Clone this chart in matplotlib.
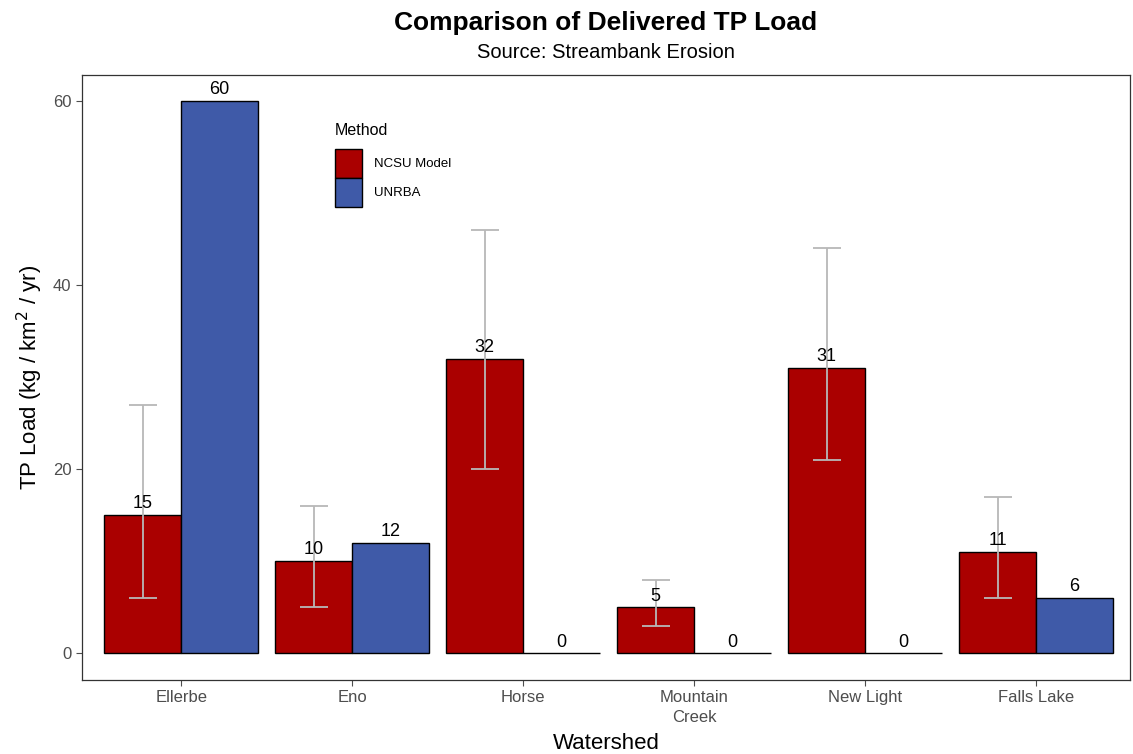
import matplotlib
matplotlib.use("Agg")
import matplotlib.pyplot as plt
from matplotlib.patches import Patch
import numpy as np

plt.rcParams['font.family'] = ['Liberation Sans', 'DejaVu Sans']

watersheds = ["Ellerbe", "Eno", "Horse", "Mountain\nCreek", "New Light", "Falls Lake"]
ncsu = [15, 10, 32, 5, 31, 11]
unrba = [60, 12, 0, 0, 0, 6]
ncsu_low = [6, 5, 20, 3, 21, 6]
ncsu_high = [27, 16, 46, 8, 44, 17]
methods = ["NCSU Model", "UNRBA"]
colors = ["#AA0000", "#3F5AA8"]

fig = plt.figure(figsize=(11.33, 7.54), dpi=100)
ax_left, ax_w = 0.0724, 0.925
ax = fig.add_axes([ax_left, 0.0981, ax_w, 0.8024])

x = np.arange(1, len(watersheds) + 1)
w = 0.45
ax.bar(x - w / 2, ncsu, width=w, color=colors[0], edgecolor="black", linewidth=1.0, zorder=2)
ax.bar(x + w / 2, unrba, width=w, color=colors[1], edgecolor="black", linewidth=1.0, zorder=2)

yerr = [np.array(ncsu) - np.array(ncsu_low), np.array(ncsu_high) - np.array(ncsu)]
ax.errorbar(x - w / 2, ncsu, yerr=yerr, fmt="none", ecolor="#B8B8B8", elinewidth=1.3,
            capsize=10, capthick=1.3, zorder=3)

for xi, v in zip(x - w / 2, ncsu):
    ax.text(xi, v + 0.3, f"{v}", ha="center", va="bottom", fontsize=13, color="black", zorder=4)
for xi, v in zip(x + w / 2, unrba):
    ax.text(xi, v + 0.3, f"{v}", ha="center", va="bottom", fontsize=13, color="black", zorder=4)

ax.set_xlim(0.42, 6.55)
ax.set_ylim(-2.9, 62.8)
ax.set_yticks([0, 20, 40, 60])
ax.set_xticks(x)
ax.set_xticklabels(watersheds, fontsize=12, color="#4D4D4D", linespacing=1.35)
ax.tick_params(axis="y", labelsize=12, labelcolor="#4D4D4D", color="#4D4D4D", length=4)
ax.tick_params(axis="x", color="#4D4D4D", length=4)
for s in ax.spines.values():
    s.set_color("#333333")
    s.set_linewidth(0.9)

ax.set_xlabel("Watershed", fontsize=16, labelpad=6)
ax.set_ylabel("TP Load (kg / km$^2$ / yr)", fontsize=16, labelpad=6)

cx = ax_left + ax_w / 2
fig.text(cx, 0.97, "Comparison of Delivered TP Load", ha="center", va="center",
         fontsize=19, fontweight="bold")
fig.text(cx, 0.93, "Source: Streambank Erosion", ha="center", va="center", fontsize=14.5)

handles = [Patch(facecolor=c, edgecolor="black", label=m) for c, m in zip(colors, methods)]
leg = ax.legend(handles=handles, title="Method", loc="upper left",
                bbox_to_anchor=(0.236, 0.93), frameon=False, fontsize=9.5,
                title_fontsize=11.5, handlelength=2.1, handleheight=3.0,
                handletextpad=0.9, labelspacing=0.0, borderaxespad=0)
leg._legend_box.align = "left"
leg._legend_box.sep = 8

fig.savefig("out.png", dpi=100)
